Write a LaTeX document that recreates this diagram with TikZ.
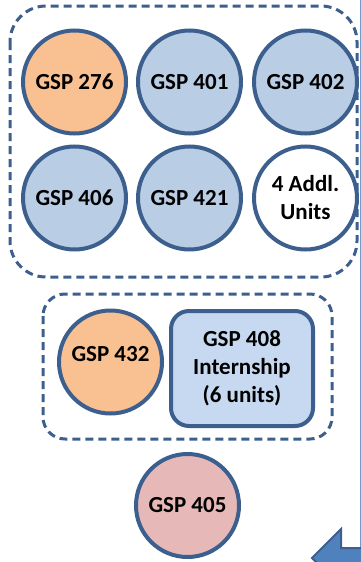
\documentclass[tikz,border=0pt]{standalone}
\usepackage{fontspec}
\setmainfont{Carlito}
\usetikzlibrary{positioning}
\definecolor{rim}{HTML}{3C5F8E}
\definecolor{peach}{HTML}{F9C191}
\definecolor{paleblue}{HTML}{B9CDE5}
\definecolor{boxblue}{HTML}{C6D9F1}
\definecolor{rose}{HTML}{E6B9B8}
\definecolor{arrowblue}{HTML}{4F81BD}

\begin{document}
\begin{tikzpicture}[x=1pt,y=-1pt,
  course/.style={circle,draw=rim,line width=4pt,minimum size=103pt,inner sep=0pt,
    align=center,font=\fontsize{23}{28}\selectfont\bfseries},
  group/.style={draw=rim,line width=3pt,dash pattern=on 8pt off 5pt}]
  \useasboundingbox (0,0) rectangle (361,562);

  % elective block
  \draw[group,rounded corners=36pt] (10,6) rectangle (357,277);
  \node[course,fill=peach] (g276) at (74.5,82) {GSP 276};
  \node[course,fill=paleblue] (g401) at (189.5,82) {GSP 401};
  \node[course,fill=paleblue] (g402) at (305.5,82) {GSP 402};
  \node[course,fill=paleblue] (g406) at (74.5,198) {GSP 406};
  \node[course,fill=paleblue] (g421) at (189.5,198) {GSP 421};
  \node[course,fill=white] (addl) at (305.5,198) {4 Addl.\\Units};

  % capstone block
  \draw[group,rounded corners=22pt] (43,294) rectangle (332,439);
  \node[course,fill=peach,text depth=16pt] (g432) at (110.5,362) {GSP 432};
  \node[draw=rim,line width=4pt,fill=boxblue,rounded corners=18pt,minimum width=142pt,
    minimum height=115pt,align=center,font=\fontsize{23}{28}\selectfont\bfseries]
    (g408) at (242,368.5) {GSP 408\\Internship\\(6 units)};

  \node[course,fill=rose] (g405) at (187.5,505.5) {GSP 405};

  % edge of the next arrow
  \begin{scope}
    \clip (0,0) rectangle (361,562);
    \draw[arrowblue!80,line width=1pt] (360.5,0) -- (360.5,548);
    \draw[rim,line width=2pt,fill=arrowblue] (365,548) -- (341,548) -- (341,529)
      -- (312,558) -- (330,576) -- (365,576);
  \end{scope}
\end{tikzpicture}
\end{document}
